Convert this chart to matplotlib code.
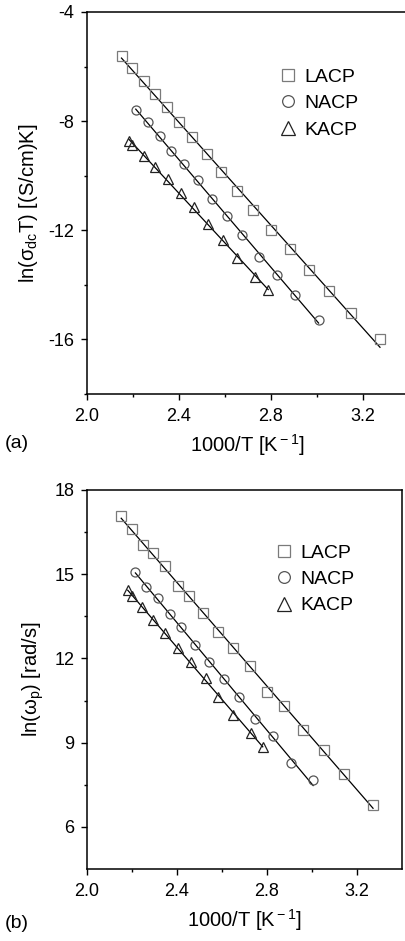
import matplotlib
matplotlib.use('Agg')
import matplotlib.pyplot as plt
import numpy as np

plt.rcParams['font.family'] = ['Liberation Sans', 'DejaVu Sans']
plt.rcParams['mathtext.fontset'] = 'custom'
plt.rcParams['mathtext.rm'] = 'Liberation Sans'
plt.rcParams['mathtext.it'] = 'Liberation Sans:italic'
plt.rcParams['axes.unicode_minus'] = False

# (a) ln(sigma_dc T)
x_la_a = [2.150, 2.197, 2.246, 2.295, 2.349, 2.402, 2.457, 2.520, 2.584, 2.653, 2.722, 2.801, 2.881, 2.964, 3.054, 3.147, 3.274]
y_la_a = [-5.63, -6.05, -6.52, -7.00, -7.49, -8.04, -8.59, -9.19, -9.86, -10.57, -11.26, -11.99, -12.69, -13.45, -14.21, -15.03, -15.97]
x_na_a = [2.212, 2.265, 2.316, 2.366, 2.421, 2.481, 2.543, 2.608, 2.676, 2.748, 2.827, 2.906, 3.007]
y_na_a = [-7.60, -8.04, -8.55, -9.10, -9.58, -10.17, -10.84, -11.47, -12.18, -12.99, -13.64, -14.39, -15.30]
x_ka_a = [2.182, 2.197, 2.246, 2.295, 2.351, 2.409, 2.466, 2.526, 2.592, 2.654, 2.729, 2.788]
y_ka_a = [-8.73, -8.88, -9.28, -9.68, -10.13, -10.62, -11.16, -11.78, -12.34, -13.03, -13.72, -14.18]

# (b) ln(omega_p)
x_la_b = [2.152, 2.199, 2.247, 2.295, 2.347, 2.404, 2.455, 2.516, 2.581, 2.650, 2.723, 2.800, 2.876, 2.961, 3.052, 3.144, 3.271]
y_la_b = [17.07, 16.60, 16.04, 15.75, 15.29, 14.58, 14.23, 13.63, 12.95, 12.36, 11.73, 10.82, 10.32, 9.45, 8.74, 7.87, 6.78]
x_na_b = [2.215, 2.264, 2.316, 2.367, 2.418, 2.481, 2.540, 2.608, 2.677, 2.745, 2.825, 2.906, 3.005]
y_na_b = [15.09, 14.56, 14.16, 13.57, 13.11, 12.48, 11.89, 11.26, 10.62, 9.83, 9.24, 8.29, 7.67]
x_ka_b = [2.181, 2.199, 2.244, 2.294, 2.345, 2.405, 2.462, 2.528, 2.581, 2.650, 2.730, 2.781]
y_ka_b = [14.44, 14.23, 13.84, 13.37, 12.90, 12.36, 11.89, 11.29, 10.62, 9.99, 9.36, 8.86]

names = ['LACP', 'NACP', 'KACP']
markers = ['s', 'o', '^']
colors = ['#7a7a7a', '#555555', '#222222']

fig = plt.figure(figsize=(4.06, 9.41), dpi=100)
ax1 = fig.add_axes([0.2143, 0.5813, 0.793, 0.406])
ax2 = fig.add_axes([0.2143, 0.0765, 0.776, 0.4028])

def draw(ax, sets, ylim, yticks, yminor, ylabel, leg_anchor):
    for (xs, ys), nm, mk, c in zip(sets, names, markers, colors):
        xs = np.array(xs); ys = np.array(ys)
        p = np.polyfit(xs, ys, 1)
        xx = np.array([xs.min(), xs.max()])
        ax.plot(xx, np.polyval(p, xx), color='black', lw=0.9, zorder=1)
        ax.plot(xs, ys, ls='none', marker=mk, ms=6.5 if mk != '^' else 7.5,
                mfc='none', mec=c, mew=0.9, label=nm, zorder=2)
    ax.set_xlim(2.0, 3.4)
    ax.set_ylim(*ylim)
    ax.set_xticks([2.0, 2.4, 2.8, 3.2])
    ax.set_xticks([2.2, 2.6, 3.0], minor=True)
    ax.set_xticklabels(['2.0', '2.4', '2.8', '3.2'])
    ax.set_yticks(yticks)
    ax.set_yticks(yminor, minor=True)
    ax.tick_params(which='major', direction='out', length=4, width=1.0,
                   labelsize=13, top=False, right=False)
    ax.tick_params(axis='x', which='major', pad=6)
    ax.tick_params(axis='y', which='major', pad=5)
    ax.tick_params(which='minor', direction='out', length=2.2, width=1.0,
                   top=False, right=False)
    for s in ax.spines.values():
        s.set_linewidth(1.1)
    ax.set_xlabel('1000/T [K$^{\\rm -1}$]', fontsize=14.5, labelpad=5)
    ax.set_ylabel(ylabel, fontsize=14.5, labelpad=6)
    ax.legend(loc='upper left', bbox_to_anchor=leg_anchor, frameon=False,
              fontsize=14, numpoints=1, markerscale=1.3, handlelength=0.8,
              handletextpad=0.45, labelspacing=0.45, borderaxespad=0)

draw(ax1, [(x_la_a, y_la_a), (x_na_a, y_na_a), (x_ka_a, y_ka_a)],
     (-18, -4), [-16, -12, -8, -4], [-18, -14, -10, -6],
     'ln(σ$_{\\rm dc}$T) [(S/cm)K]', (0.575, 0.873))
draw(ax2, [(x_la_b, y_la_b), (x_na_b, y_na_b), (x_ka_b, y_ka_b)],
     (4.5, 18), [6, 9, 12, 15, 18], [7.5, 10.5, 13.5, 16.5],
     'ln(ω$_{\\rm p}$) [rad/s]', (0.575, 0.878))

fig.text(0.012, 0.529, '(a)', fontsize=14, va='center')
fig.text(0.012, 0.019, '(b)', fontsize=14, va='center')

fig.savefig('out.png', dpi=100)
